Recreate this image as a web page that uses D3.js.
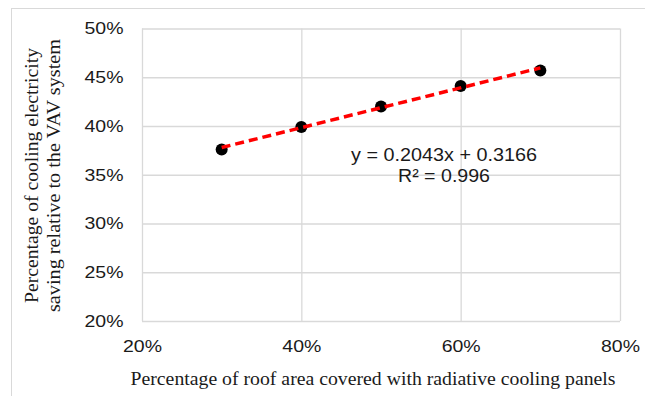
<!DOCTYPE html>
<html>
<head>
<meta charset="utf-8">
<script src="https://d3js.org/d3.v7.min.js"></script>
<style>
    body { margin: 0; background: #fff; }
    svg { display: block; }
    .grid line { stroke: #d9d9d9; stroke-width: 1.3px; }
    .grid path { display: none; }
    .ticks path, .ticks line { display: none; }
    .ticks text { font-family: "Liberation Sans", Arial, sans-serif; font-size: 16.5px; fill: #1a1a1a; }
    .title { font-family: "Liberation Serif", "Times New Roman", serif; font-size: 18.5px; fill: #1a1a1a; }
    .eq { font-family: "Liberation Sans", Arial, sans-serif; font-size: 18.5px; fill: #1a1a1a; }
</style>
</head>
<body>
<div id="chart"></div>
<script>
    // data
    let coverage = [0.3, 0.4, 0.5, 0.6, 0.7];
    let saving = [0.376, 0.399, 0.420, 0.441, 0.457];
    let xTicks = [0.2, 0.4, 0.6, 0.8];
    let yTicks = [0.2, 0.25, 0.3, 0.35, 0.4, 0.45, 0.5];
    let trendSlope = 0.2043, trendIntercept = 0.3166;
    let eqLabels = ["y = 0.2043x + 0.3166", "R\u00b2 = 0.996"];
    let xTitle = "Percentage of roof area covered with radiative cooling panels";
    let yTitle = ["Percentage of cooling electricity", "saving relative to the VAV system"];

    let w = 645, h = 396;
    let pLeft = 142, pRight = 620, pTop = 28.5, pBottom = 321;

    let svg = d3.select("#chart").append("svg")
        .attr("width", w)
        .attr("height", h);

    // chart area border (clipped at right/bottom like the reference)
    svg.append("rect")
        .attr("x", 11.5).attr("y", 8.5)
        .attr("width", w).attr("height", h)
        .attr("fill", "none")
        .attr("stroke", "#d9d9d9");

    let x = d3.scaleLinear().domain([0.2, 0.8]).range([pLeft, pRight]);
    let y = d3.scaleLinear().domain([0.2, 0.5]).range([pBottom, pTop]);

    // gridlines
    svg.append("g")
        .attr("class", "grid")
        .attr("transform", "translate(0," + pBottom + ")")
        .call(d3.axisBottom(x).tickValues(xTicks).tickSize(-(pBottom - pTop)).tickFormat(""));
    svg.append("g")
        .attr("class", "grid")
        .attr("transform", "translate(" + pLeft + ",0)")
        .call(d3.axisLeft(y).tickValues(yTicks).tickSize(-(pRight - pLeft)).tickFormat(""));

    // tick labels
    let pct = d3.format(".0%");
    svg.append("g")
        .attr("class", "ticks")
        .attr("transform", "translate(0," + pBottom + ")")
        .call(d3.axisBottom(x).tickValues(xTicks).tickSize(0).tickPadding(19).tickFormat(pct))
        .selectAll("text")
        .attr("textLength", 39).attr("lengthAdjust", "spacingAndGlyphs");
    svg.append("g")
        .attr("class", "ticks")
        .attr("transform", "translate(" + pLeft + ",0)")
        .call(d3.axisLeft(y).tickValues(yTicks).tickSize(0).tickPadding(18.5).tickFormat(pct))
        .selectAll("text")
        .attr("textLength", 39).attr("lengthAdjust", "spacingAndGlyphs");

    // linear trendline over the data range
    let xr = d3.extent(coverage);
    let line = d3.line()
        .x(function(d) { return x(d); })
        .y(function(d) { return y(trendSlope * d + trendIntercept); });

    // points
    svg.append("g")
        .selectAll("circle")
        .data(coverage)
        .enter().append("circle")
            .attr("cx", function(d) { return x(d); })
            .attr("cy", function(d, i) { return y(saving[i]); })
            .attr("r", 6)
            .attr("fill", "#000");

    svg.append("path")
        .datum(xr)
        .attr("d", line)
        .attr("fill", "none")
        .attr("stroke", "#ff0000")
        .attr("stroke-width", 3.5)
        .attr("stroke-dasharray", "9,5");

    // equation label
    svg.append("text")
        .attr("class", "eq")
        .attr("x", 444).attr("y", 161)
        .attr("text-anchor", "middle")
        .attr("textLength", 186).attr("lengthAdjust", "spacingAndGlyphs")
        .text(eqLabels[0]);
    svg.append("text")
        .attr("class", "eq")
        .attr("x", 444).attr("y", 182)
        .attr("text-anchor", "middle")
        .attr("textLength", 92).attr("lengthAdjust", "spacingAndGlyphs")
        .text(eqLabels[1]);

    // axis titles
    svg.append("text")
        .attr("class", "title")
        .attr("x", 373).attr("y", 385)
        .attr("text-anchor", "middle")
        .attr("textLength", 485).attr("lengthAdjust", "spacingAndGlyphs")
        .text(xTitle);

    let yt = svg.append("g")
        .attr("transform", "translate(0,175.5) rotate(-90)");
    yt.append("text")
        .attr("class", "title")
        .attr("x", 0).attr("y", 38)
        .attr("text-anchor", "middle")
        .attr("textLength", 255).attr("lengthAdjust", "spacingAndGlyphs")
        .text(yTitle[0]);
    yt.append("text")
        .attr("class", "title")
        .attr("x", 0).attr("y", 60)
        .attr("text-anchor", "middle")
        .attr("textLength", 273).attr("lengthAdjust", "spacingAndGlyphs")
        .text(yTitle[1]);
</script>
</body>
</html>
